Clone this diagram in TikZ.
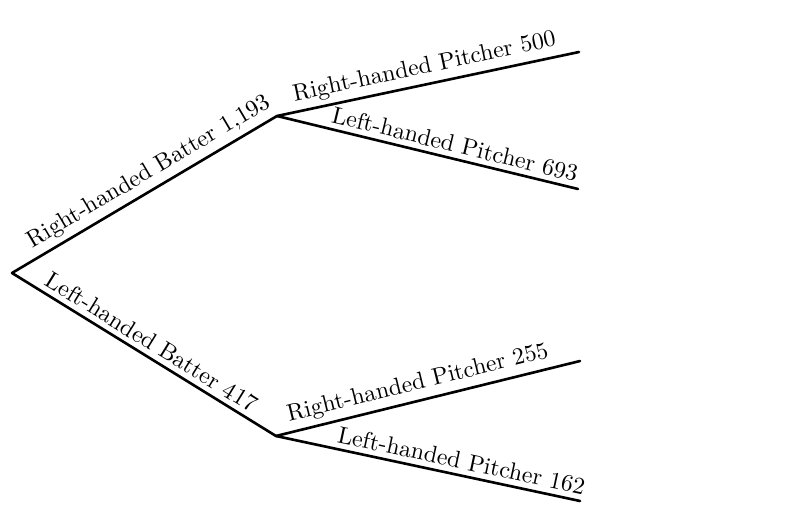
\documentclass[tikz,border=0pt]{standalone}
\usepackage{amsmath,amssymb}
\usepackage{xcolor}
\usepackage{tikz}
\usetikzlibrary{positioning}

\begin{document}
\begin{tikzpicture}[
    x=0.42pt, y=-0.42pt,
    branch/.style={line width=1.1pt, line cap=round, line join=round},
    lbl/.style={sloped, above, inner sep=2pt, font=\normalsize}
]
\useasboundingbox (0,0) rectangle (801,508);

% Tree points
\coordinate (root) at (12,273);
\coordinate (rb)   at (277,116);
\coordinate (lb)   at (276,436);
\coordinate (rbrp) at (579,52);
\coordinate (rblp) at (578,189);
\coordinate (lbrp) at (580,361);
\coordinate (lblp) at (580,501);

% Batters
\draw[branch] (root) -- (rb) node[lbl,pos=.55]{Right-handed Batter 1,193};
\draw[branch] (root) -- (lb) node[lbl,pos=.5]{Left-handed Batter 417};

% Pitchers
\draw[branch] (rb) -- (rbrp) node[lbl,pos=.5]{Right-handed Pitcher 500};
\draw[branch] (rb) -- (rblp) node[lbl,pos=.58]{Left-handed Pitcher 693};
\draw[branch] (lb) -- (lbrp) node[lbl,pos=.48]{Right-handed Pitcher 255};
\draw[branch] (lb) -- (lblp) node[lbl,pos=.6]{Left-handed Pitcher 162};

\end{tikzpicture}
\end{document}
